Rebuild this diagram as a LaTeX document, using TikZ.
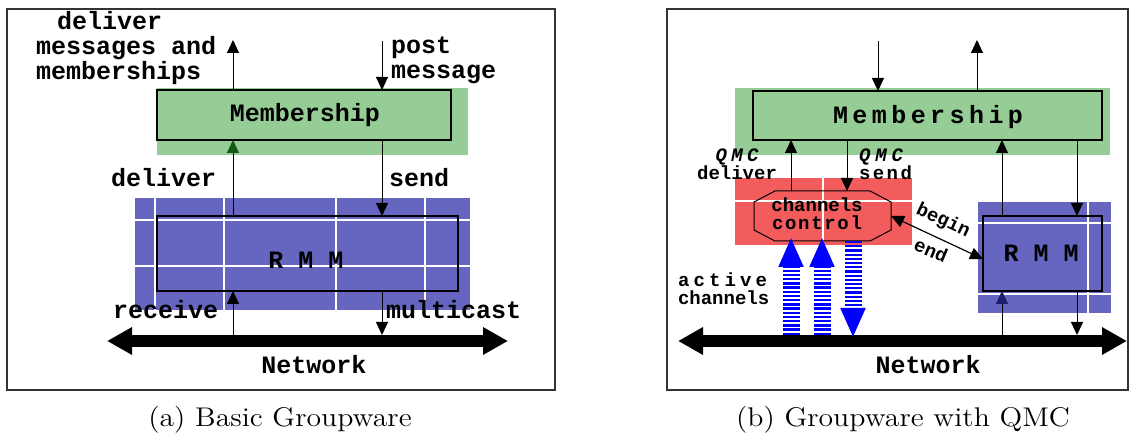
\documentclass[tikz,border=0pt]{standalone}
\usepackage{graphicx}
\usepackage{fontspec}
\newfontfamily\cour{Liberation Mono}
\usetikzlibrary{arrows.meta}
\makeatletter
\newcommand\sprd[2]{\makebox[#1][l]{\@tfor\sp@ch:=#2\do{\sp@ch\hfill}\unskip}}
\makeatother
\definecolor{memgreen}{RGB}{150,205,150}
\definecolor{rmmblue}{RGB}{102,102,192}
\definecolor{ccred}{RGB}{242,92,92}
\definecolor{chblue}{RGB}{0,0,255}
\definecolor{dkgreen}{RGB}{20,90,20}
\definecolor{dknavy}{RGB}{30,30,110}
\begin{document}
\begin{tikzpicture}[x=0.5pt,y=-0.5pt,
  every node/.style={inner sep=0pt, outer sep=0pt},
  frm/.style={draw=black!80, line width=0.6pt, anchor=north west},
  bgzone/.style={anchor=north west},
  modbox/.style={draw=black, line width=0.6pt, anchor=north west},
  lbl/.style={font=\cour\bfseries\fontsize{12.5pt}{12.5pt}\selectfont},
  sml/.style={font=\cour\bfseries\fontsize{9.5pt}{9pt}\selectfont},
  captext/.style={font=\fontsize{13.5pt}{16pt}\selectfont},
  arr/.style={line width=0.5pt, -{Triangle[length=6.5pt,width=6pt]}},
  whitegrid/.style={white, line width=0.6pt},
  netarrow/.style={line width=6.25pt, {Triangle[length=12.5pt,width=13pt]}-{Triangle[length=12.5pt,width=13pt]}},
  chan/.style={chblue, line width=8.5pt, dash pattern=on 1.15pt off 0.95pt, -{Triangle[length=15pt,width=11.5pt]}}
]
\useasboundingbox (0,0) rectangle (1135,437);
\fill[white] (0,0) rectangle (1135,437);

% frames
\node[frm, minimum width=274pt, minimum height=190.5pt] (frameA) at (7,9) {};
\node[frm, minimum width=230.5pt, minimum height=190.5pt] (frameB) at (667,9) {};

% ---------- (a) ----------
\node[bgzone, fill=memgreen, minimum width=155.5pt, minimum height=33.5pt] (memAbg) at (157,88) {};
\node[bgzone, fill=rmmblue, minimum width=167.5pt, minimum height=56pt] (rmmAbg) at (135,198) {};
\foreach \gx in {155,224,336,425} \draw[whitegrid] (rmmAbg.north -| \gx,0) -- (rmmAbg.south -| \gx,0);
\foreach \gy in {220,266} \draw[whitegrid] (rmmAbg.west |- 0,\gy) -- (rmmAbg.east |- 0,\gy);
\node[modbox, minimum width=147pt, minimum height=25pt] (memA) at (157,90) {};
\node[modbox, minimum width=150.5pt, minimum height=37.5pt] (rmmA) at (157,216) {};

\coordinate (xa1) at (233,0);
\coordinate (xa2) at (382,0);
\coordinate (topA1) at (233,40);
\coordinate (topA2) at (382,41);
\coordinate (netA1) at (233,335);
\coordinate (netA2) at (382,335);
\coordinate (netAl) at (107,341);
\coordinate (netAr) at (508,341);

\draw[arr] (memA.north -| xa1) -- (topA1);
\draw[arr] (topA2) -- (memA.north -| xa2);
\draw[line width=0.5pt, -{Triangle[length=6.5pt,width=6pt,color=dkgreen]}] (rmmA.north -| xa1) -- (memA.south -| xa1);
\draw[arr] (memA.south -| xa2) -- (rmmA.north -| xa2);
\draw[arr] (netA1) -- (rmmA.south -| xa1);
\draw[arr] (rmmA.south -| xa2) -- (netA2);
\draw[netarrow] (netAl) -- (netAr);

\node[lbl, align=left, anchor=west] (dmm) at (36,48) {\hspace*{10.5pt}deliver\\messages and\\memberships};
\node[lbl, align=left, anchor=west] (pm) at (391,60) {post\\message};
\node[lbl] (memAt) at (305,115) {Membership};
\node[lbl, anchor=west] (delA) at (111,178) {deliver};
\node[lbl, anchor=west] (sendA) at (389,178) {send};
\node[lbl] (rmmAt) at (306,260) {R M M};
\node[lbl, anchor=west] (recA) at (113,310) {receive};
\node[lbl, anchor=west] (mcA) at (386,310) {multicast};
\node[lbl] (netAt) at (314,365) {Network};
\node[captext] (capA) at (280,420) {\scalebox{1.1}[1]{(a) Basic Groupware}};

% ---------- (b) ----------
\node[bgzone, fill=memgreen, minimum width=187.5pt, minimum height=33.5pt] (memBbg) at (735,88) {};
\node[bgzone, fill=ccred, minimum width=88.5pt, minimum height=33.5pt] (ccBbg) at (735,178) {};
\draw[whitegrid] (ccBbg.north -| 823,0) -- (ccBbg.south -| 823,0);
\draw[whitegrid] (ccBbg.west |- 0,201) -- (ccBbg.east |- 0,201);
\node[bgzone, fill=rmmblue, minimum width=66.5pt, minimum height=55.5pt] (rmmBbg) at (978,202) {};
\draw[whitegrid] (rmmBbg.north -| 1088,0) -- (rmmBbg.south -| 1088,0);
\foreach \gy in {223,294} \draw[whitegrid] (rmmBbg.west |- 0,\gy) -- (rmmBbg.east |- 0,\gy);

\node[modbox, minimum width=174.5pt, minimum height=24.5pt] (memB) at (753,91) {};
\node[modbox, minimum width=59.5pt, minimum height=37.5pt] (rmmB) at (983,216) {};
\node[anchor=north west, minimum width=68.5pt, minimum height=25pt] (cc) at (754,191) {};
\draw[line width=0.5pt] ([xshift=10.5pt]cc.north west) -- ([xshift=-10.5pt]cc.north east)
  -- ([yshift=-5.5pt]cc.north east) -- ([yshift=5.5pt]cc.south east)
  -- ([xshift=-10.5pt]cc.south east) -- ([xshift=10.5pt]cc.south west)
  -- ([yshift=5.5pt]cc.south west) -- ([yshift=-5.5pt]cc.north west) -- cycle;

\coordinate (xb1) at (791,0);
\coordinate (xb2) at (847,0);
\coordinate (xb3) at (1002,0);
\coordinate (xb4) at (1077,0);
\coordinate (topB1) at (878,41);
\coordinate (topB2) at (977,40);
\coordinate (xm1) at (878,0);
\coordinate (xm2) at (977,0);
\coordinate (netB3) at (1002,335);
\coordinate (netB4) at (1077,335);
\coordinate (netBl) at (678,341);
\coordinate (netBr) at (1127,341);
\coordinate (ch1) at (791,335);
\coordinate (ch2) at (822,335);
\coordinate (ch3) at (853,338);
\coordinate (xc1) at (791,0);
\coordinate (xc2) at (822,0);
\coordinate (xc3) at (853,0);

\draw[arr] (topB1) -- (memB.north -| xm1);
\draw[arr] (memB.north -| xm2) -- (topB2);
\draw[arr] (cc.north -| xb1) -- (memB.south -| xb1);
\draw[arr] (memB.south -| xb2) -- (cc.north -| xb2);
\draw[arr] (rmmB.north -| xb3) -- (memB.south -| xb3);
\draw[arr] (memB.south -| xb4) -- (rmmB.north -| xb4);
\draw[line width=0.5pt, -{Triangle[length=6.5pt,width=6pt,color=dknavy]}] (netB3) -- (rmmB.south -| xb3);
\draw[arr] (rmmB.south -| xb4) -- (netB4);
\draw[line width=0.6pt, {Triangle[length=6.5pt,width=6pt]}-{Triangle[length=6.5pt,width=6pt]}] (cc.east) -- ([yshift=-2.75pt]rmmB.west);
\draw[netarrow] (netBl) -- (netBr);
\draw[chan] (ch1) -- ([yshift=2pt]cc.south -| xc1);
\draw[chan] (ch2) -- ([yshift=2pt]cc.south -| xc2);
\draw[chan] (cc.south -| xc3) -- (ch3);

\node[lbl] (memBt) at (928,117) {\sprd{95pt}{Membership}};
\node[sml, align=center] (qdel) at (737,164) {\itshape\sprd{21.5pt}{QMC}\\deliver};
\node[sml, align=left, anchor=west] (qsend) at (859,164) {\itshape\sprd{22pt}{QMC}\\\sprd{26.5pt}{send}};
\node[sml, align=center] (cct) at (817,214) {channels\\\sprd{45pt}{control}};
\node[sml, rotate=-25] (begint) at (943,221) {begin};
\node[sml, rotate=-23] (endt) at (931,250) {end};
\node[lbl] (rmmBt) at (1041,253) {R M M};
\node[sml, align=left, anchor=west] (act) at (678,289) {\sprd{44.5pt}{active}\\channels};
\node[lbl] (netBt) at (928,365) {Network};
\node[captext] (capB) at (903,420) {\scalebox{1.1}[1]{(b) Groupware with QMC}};
\end{tikzpicture}
\end{document}
